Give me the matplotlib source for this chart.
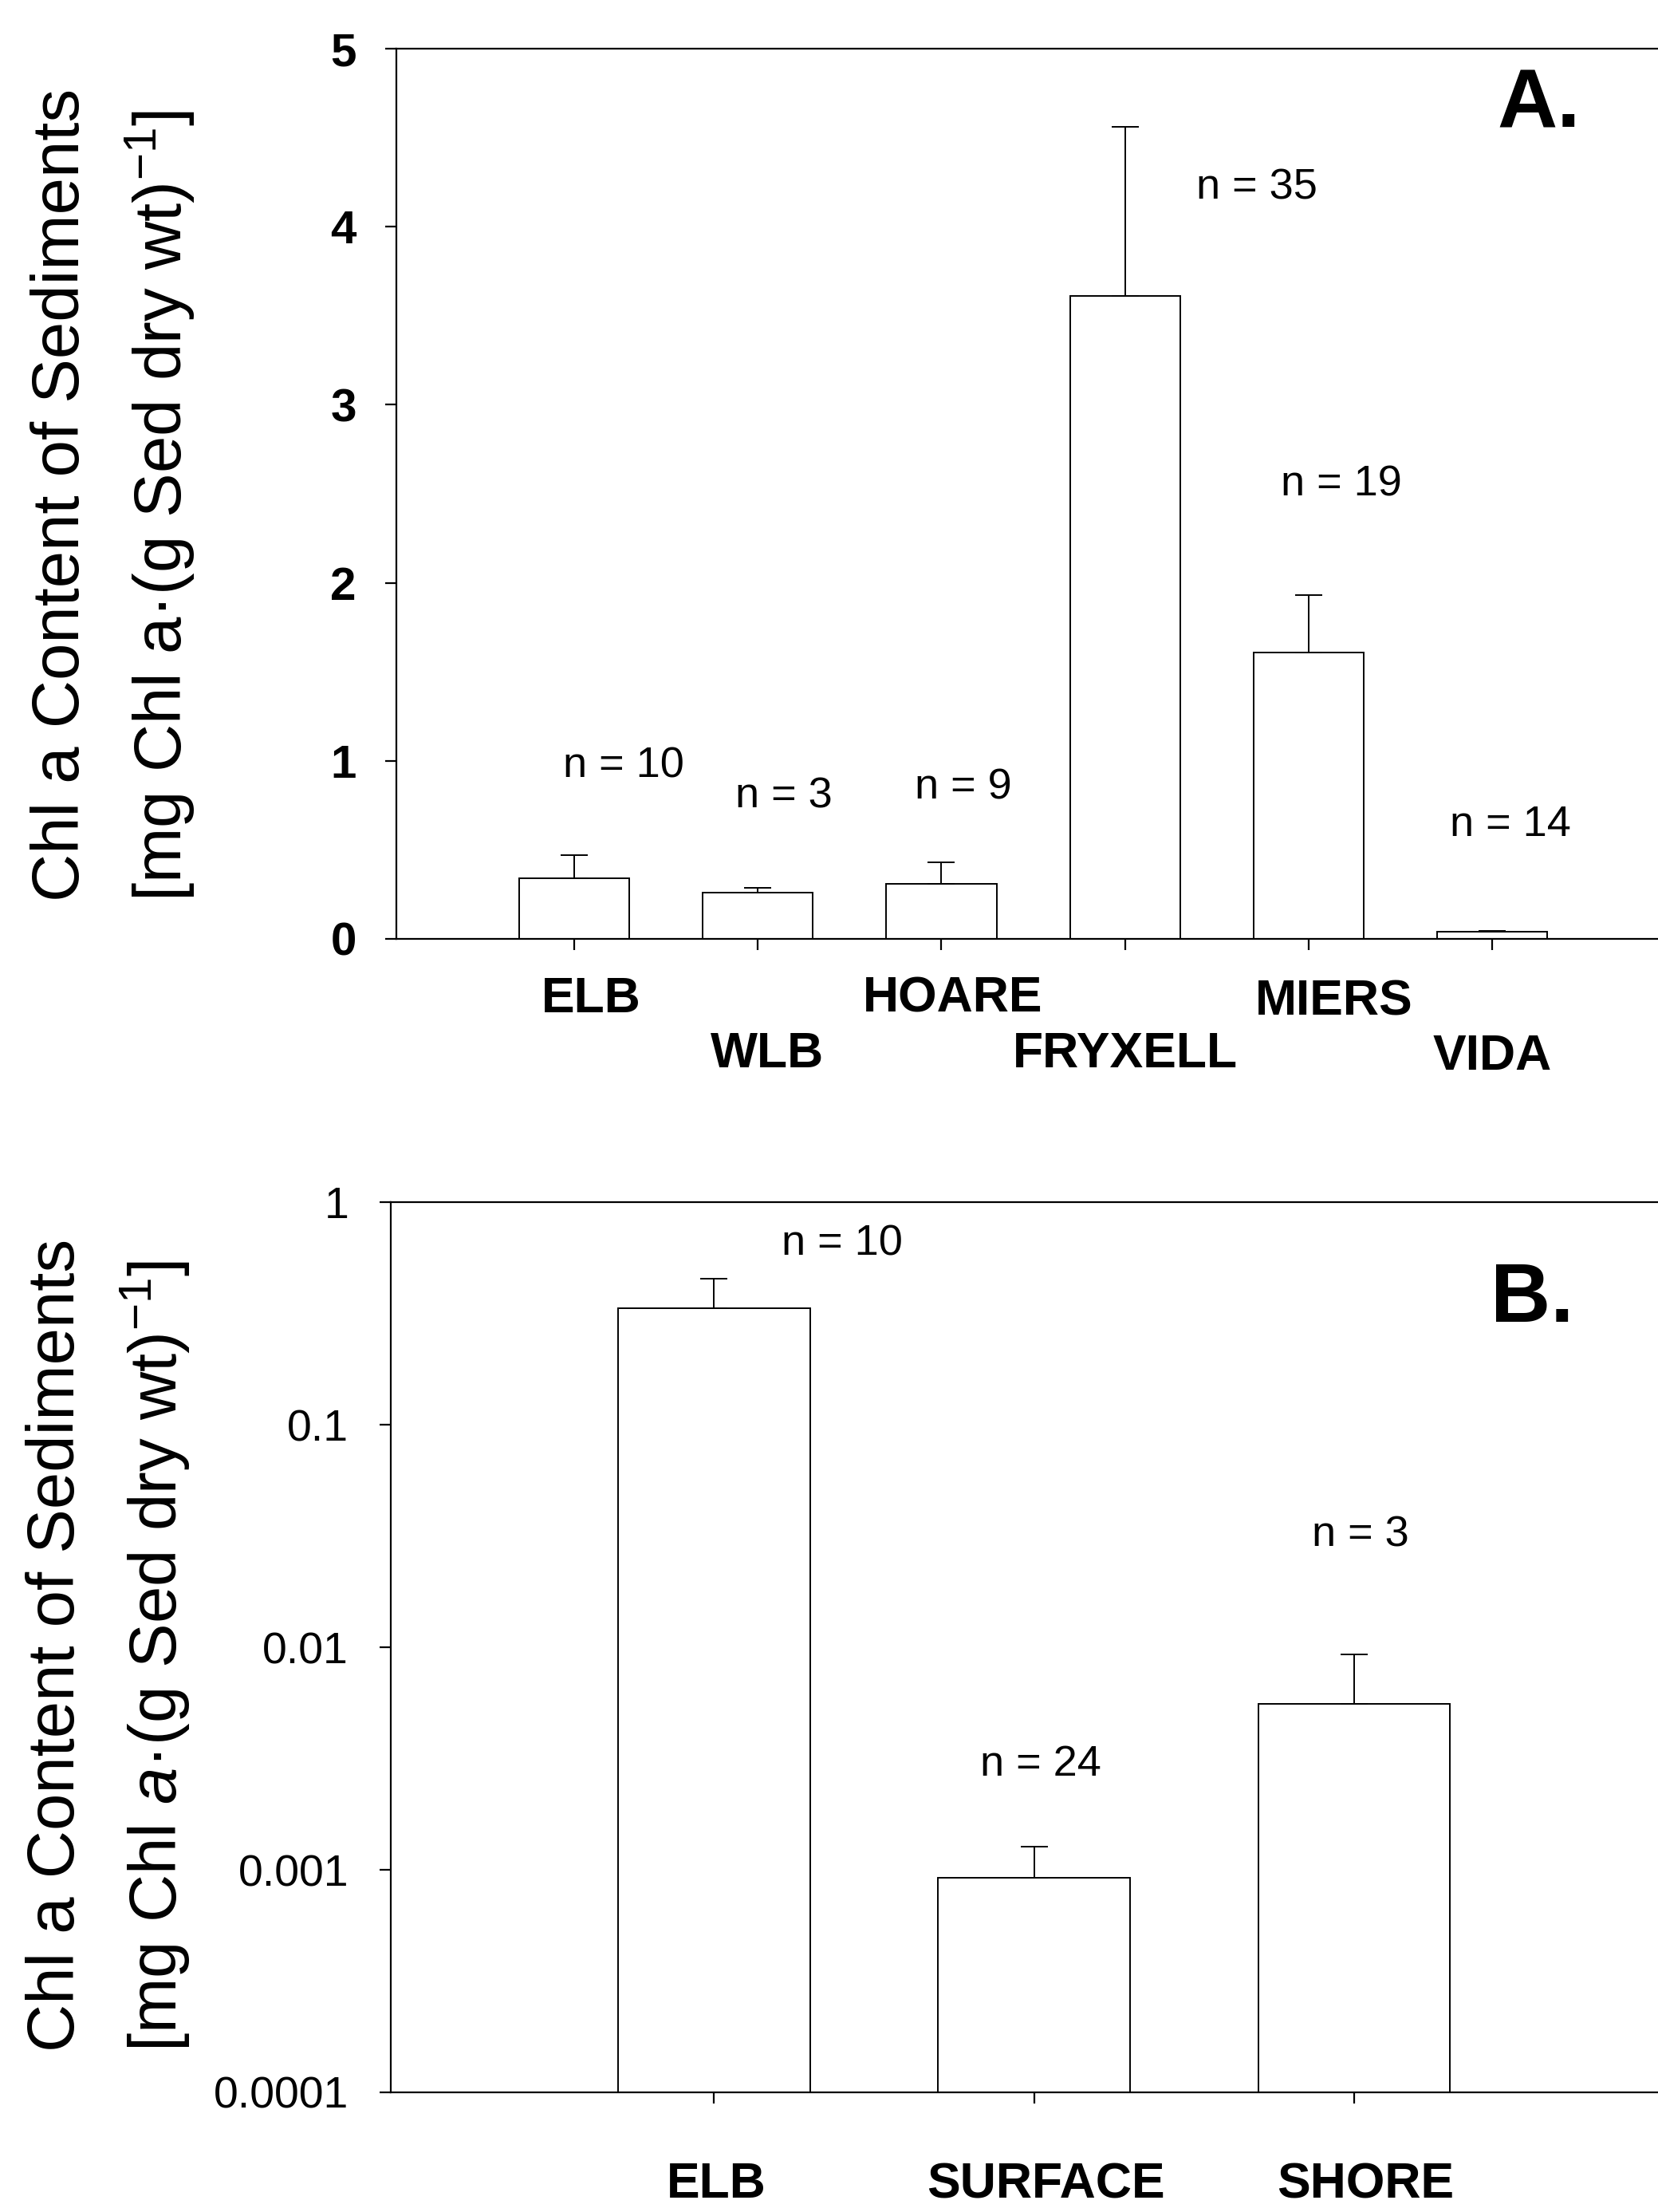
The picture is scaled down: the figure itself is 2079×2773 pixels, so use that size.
import numpy as np
from matplotlib import pyplot as plt
from matplotlib.ticker import FixedLocator, NullLocator
from matplotlib.transforms import ScaledTranslation

plt.rcParams['font.family'] = ['Liberation Sans', 'DejaVu Sans']
plt.rcParams['mathtext.fontset'] = 'custom'
plt.rcParams['mathtext.rm'] = 'Liberation Sans'
plt.rcParams['mathtext.it'] = 'Liberation Sans:italic'
plt.rcParams['mathtext.bf'] = 'Liberation Sans:bold'

# Panel A: lakes
lakes = ["ELB", "WLB", "HOARE", "FRYXELL", "MIERS", "VIDA"]
chl_a = [0.34, 0.26, 0.31, 3.61, 1.61, 0.04]
chl_a_err = [0.13, 0.025, 0.12, 0.95, 0.32, 0.006]
n_a = [10, 3, 9, 35, 19, 14]

# Panel B: ELB vs glacier surface / shore
sites = ["ELB", "SURFACE", "SHORE"]
chl_b = [0.334, 0.00092, 0.00557]
chl_b_err = [0.12, 0.00035, 0.0037]
n_b = [10, 24, 3]
b_ticks = [0.0001, 0.001, 0.01, 0.1, 1]
b_ticklabels = ["0.0001", "0.001", "0.01", "0.1", "1"]

# n-label positions (x, y in data units)
n_pos_a = [(0.27, 0.97), (1.14, 0.80), (2.12, 0.85), (3.72, 4.22), (4.18, 2.55), (5.10, 0.64)]
n_pos_b = [(0.40, 0.65), (1.02, 0.00297), (2.02, 0.032)]

# label nudges (pixels) and pads (points) for staggered lake names
lake_dx = [21, 12, 14, 0, 32, 0]
lake_pad = [23, 73, 23, 73, 26, 75]
site_dx = [3, 15, 14]

LINE = 1.6
BAR_LW = 1.4


def style_axes(ax):
    ax.spines['right'].set_visible(False)
    for s in ['left', 'top', 'bottom']:
        ax.spines[s].set_linewidth(LINE)
    ax.tick_params(axis='both', direction='out', width=LINE, length=10)


def draw_bars(ax, values, errs):
    x = np.arange(len(values))
    ax.bar(x, values, width=0.6, color='white', edgecolor='black',
           linewidth=BAR_LW, zorder=2,
           yerr=[np.zeros(len(errs)), errs],
           error_kw=dict(ecolor='black', elinewidth=BAR_LW, capsize=12,
                         capthick=BAR_LW, zorder=3))
    return x


def nudge_xlabels(fig, ax, dxs):
    for tick, dx in zip(ax.xaxis.get_major_ticks(), dxs):
        lab = tick.label1
        lab.set_transform(lab.get_transform() +
                          ScaledTranslation(dx / 100, 0, fig.dpi_scale_trans))


fig = plt.figure(figsize=(20.79, 27.73), dpi=100)

# ---- Panel A ----
axA = fig.add_axes([0.239, 0.5756, 0.827, 0.4024])
xA = draw_bars(axA, chl_a, chl_a_err)
axA.set_xlim(-0.97, 6.5)
axA.set_ylim(0, 5)
style_axes(axA)
axA.set_yticks(range(6))
axA.set_yticklabels([str(v) for v in range(6)], fontsize=42, fontweight='bold')
axA.tick_params(axis='y', pad=26)
axA.set_xticks(xA)
axA.set_xticklabels(lakes, fontsize=45, fontweight='bold')
for tick, pad in zip(axA.xaxis.get_major_ticks(), lake_pad):
    tick.set_pad(pad)
nudge_xlabels(fig, axA, lake_dx)
for (px, py), n in zip(n_pos_a, n_a):
    axA.text(px, py, f"n = {n}", fontsize=39, ha='center', va='center')
fig.text(0.928, 0.952, "A.", fontsize=75, fontweight='bold', ha='center', va='center')

fig.text(0.056, 0.5925, "Chl a Content of Sediments", rotation=90,
         fontsize=60, ha='right', va='bottom')
fig.text(0.119, 0.5925, "[mg Chl a·(g Sed dry wt)$^{-1}$]", rotation=90,
         fontsize=60, ha='right', va='bottom')

# ---- Panel B ----
axB = fig.add_axes([0.2357, 0.0541, 0.832, 0.4024])
xB = draw_bars(axB, chl_b, chl_b_err)
axB.set_yscale('log')
axB.set_xlim(-1.01, 3.3)
axB.set_ylim(0.0001, 1)
style_axes(axB)
axB.yaxis.set_major_locator(FixedLocator(b_ticks))
axB.yaxis.set_minor_locator(NullLocator())
axB.set_yticklabels(b_ticklabels, fontsize=40)
axB.tick_params(axis='y', pad=28)
axB.set_xticks(xB)
axB.set_xticklabels(sites, fontsize=45, fontweight='bold')
axB.tick_params(axis='x', pad=52)
nudge_xlabels(fig, axB, site_dx)
for (px, py), n in zip(n_pos_b, n_b):
    axB.text(px, py, f"n = {n}", fontsize=39, ha='center', va='center')
fig.text(0.924, 0.412, "B.", fontsize=75, fontweight='bold', ha='center', va='center')

fig.text(0.053, 0.0725, "Chl a Content of Sediments", rotation=90,
         fontsize=60, ha='right', va='bottom')
fig.text(0.116, 0.0725, "[mg Chl $\\mathit{a}$·(g Sed dry wt)$^{-1}$]", rotation=90,
         fontsize=60, ha='right', va='bottom')

fig.savefig("out.png", dpi=100)
